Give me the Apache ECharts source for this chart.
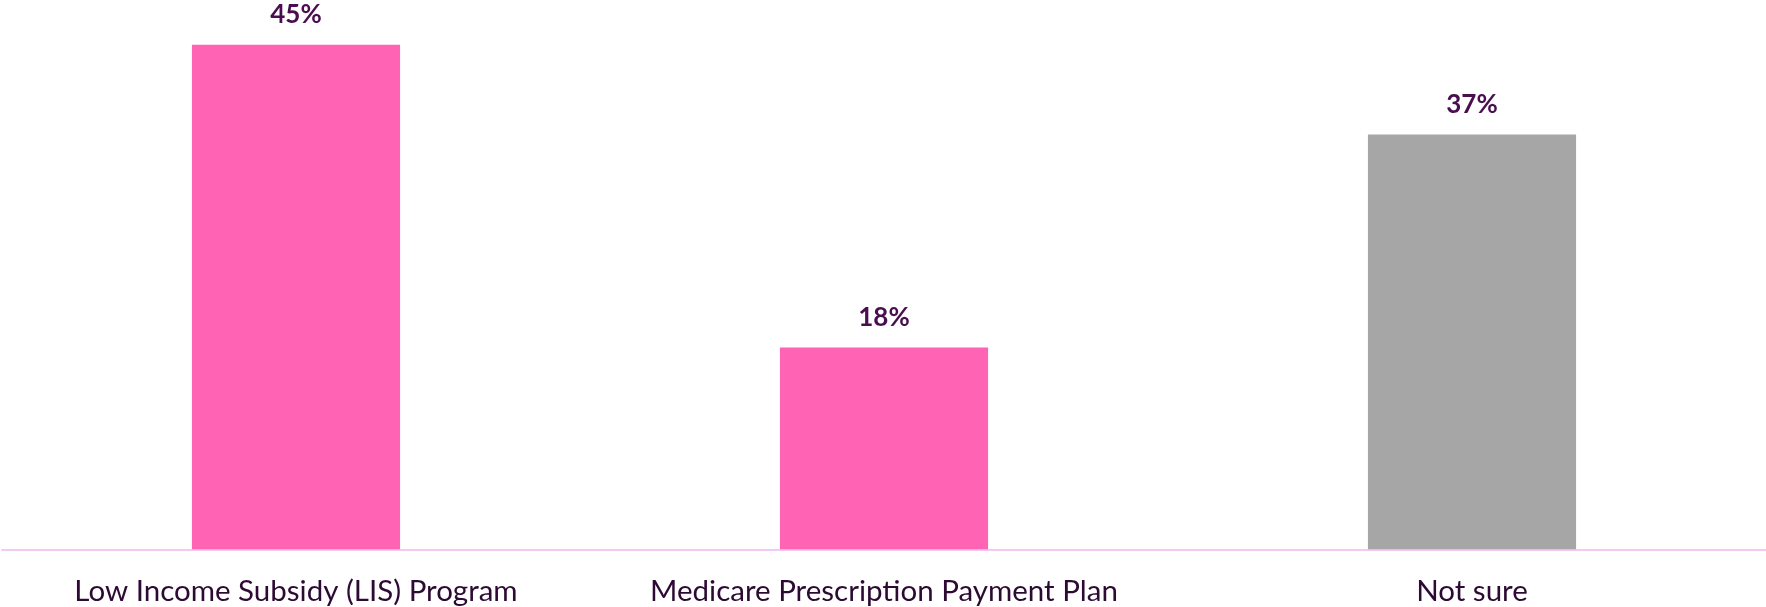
<!DOCTYPE html>
<html><head><meta charset="utf-8">
<script src="https://cdn.jsdelivr.net/npm/echarts@6/dist/echarts.min.js"></script>
<style>html,body{margin:0;padding:0;background:#fff;}#c{width:1766px;height:607px;}</style>
</head><body><div id="c"></div>
<script>
const categories = ["Low Income Subsidy (LIS) Program", "Medicare Prescription Payment Plan", "Not sure"];
const values = [45, 18, 37];
const barColors = ["#FF63B4", "#FF63B4", "#A6A6A6"];

const chart = echarts.init(document.getElementById('c'), null, {renderer: 'canvas'});
chart.setOption({
  animation: false,
  grid: {left: 2, right: 0, top: 0, bottom: 57.7, containLabel: false},
  xAxis: {
    type: 'category', data: categories,
    axisLine: {show: true, lineStyle: {color: '#F2C9F2', width: 2}},
    axisTick: {show: false},
    axisLabel: {interval: 0, hideOverlap: false, color: '#2D0A33', fontFamily: 'Lato', fontSize: 29.5, margin: 27}
  },
  yAxis: {type: 'value', min: 0, max: 49, show: false, splitLine: {show: false}},
  series: [{
    type: 'bar', barWidth: '35.4%',
    data: values.map((v, i) => ({value: v, itemStyle: {color: barColors[i]}})),
    label: {show: true, position: 'top', distance: 17, formatter: '{c}%', color: '#4A0E50', fontFamily: 'Lato', fontWeight: 'bold', fontSize: 26}
  }]
});
</script></body></html>
